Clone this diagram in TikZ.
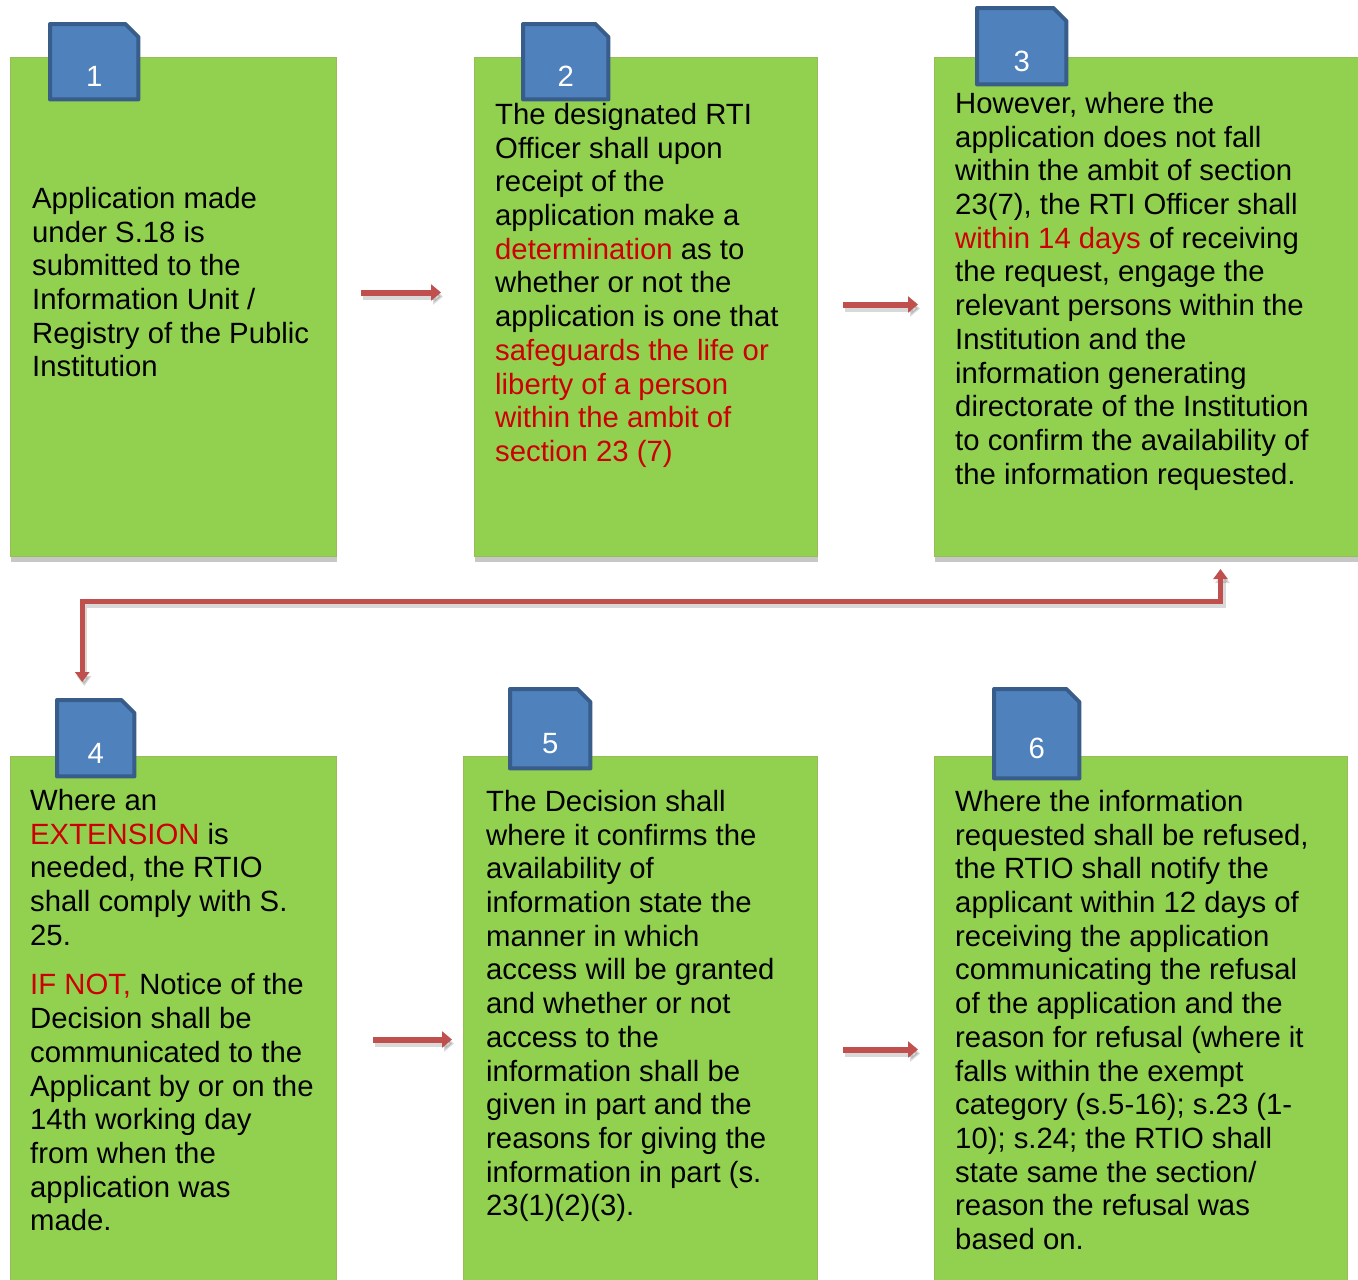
\documentclass[tikz,border=0pt]{standalone}
\usepackage{fontspec}
\setmainfont{Liberation Sans}
\usepackage{xcolor}
\usepackage{tikz}
\usetikzlibrary{arrows.meta,positioning,shadows}
\definecolor{leaf}{HTML}{92D050}
\definecolor{leafedge}{HTML}{9BBB59}
\definecolor{tabfill}{HTML}{4F81BD}
\definecolor{tabedge}{HTML}{385D8A}
\definecolor{flow}{HTML}{C0504D}
\definecolor{alert}{HTML}{CC0000}
\newcommand{\rtired}[1]{\textcolor{alert}{#1}}

\begin{document}
\begin{tikzpicture}[
  x=1pt, y=-1pt,
  stepbox/.style={draw=leafedge, line width=1pt, fill=leaf, anchor=north west,
    inner sep=0pt, drop shadow={shadow xshift=0pt, shadow yshift=-5pt,
    opacity=0.22, fill=black}},
  numtab/.style={rectangle, anchor=north west, inner sep=0pt},
  tabline/.style={draw=tabedge, line width=4pt, fill=tabfill, line join=round},
  numtext/.style={text=white, font=\fontsize{29.3}{33.7}\selectfont, yshift=-15pt},
  bodytext/.style={anchor=north west, inner sep=0pt, align=left,
    font=\fontsize{29.3}{33.7}\selectfont},
  flowarrow/.style={draw=flow, line width=6pt,
    -{Triangle[length=10pt, width=16pt]},
    preaction={draw=black, opacity=0.15, line width=6pt,
      transform canvas={shift={(2pt,-4pt)}}}},
]
  \useasboundingbox (0,0) rectangle (1358,1280);

  % boxes
  \node[stepbox, minimum width=326pt, minimum height=499pt] (b1) at (10,57) {};
  \node[stepbox, minimum width=343pt, minimum height=499pt] (b2) at (474,57) {};
  \node[stepbox, minimum width=426pt, minimum height=499pt] (b3) at (934,57) {};
  \node[stepbox, minimum width=326pt, minimum height=530pt] (b4) at (10,756) {};
  \node[stepbox, minimum width=354pt, minimum height=530pt] (b5) at (463,756) {};
  \node[stepbox, minimum width=413pt, minimum height=530pt] (b6) at (934,756) {};

  % number tabs
  \node[numtab, minimum width=88pt, minimum height=75pt] (t1) at (50,24) {};
  \node[numtab, minimum width=85pt, minimum height=75pt] (t2) at (523,24) {};
  \node[numtab, minimum width=89pt, minimum height=76pt] (t3) at (977,8) {};
  \node[numtab, minimum width=77pt, minimum height=76pt] (t4) at (57,700) {};
  \node[numtab, minimum width=80pt, minimum height=79pt] (t5) at (510,689) {};
  \node[numtab, minimum width=85pt, minimum height=89pt] (t6) at (994,689) {};
  \foreach \t/\n in {t1/1,t2/2,t3/3,t4/4,t5/5,t6/6} {
    \draw[tabline] (\t.south west) -- (\t.north west)
      -- ([xshift=-13pt]\t.north east) -- ([yshift=-13pt]\t.north east)
      -- (\t.south east) -- cycle;
    \node[numtext] (n\n) at (\t.center) {\n};
  }

  % texts
  \node[bodytext] (x1) at (32,187) {Application made\\under S.18 is\\
    submitted to the\\Information Unit /\\Registry of the Public\\Institution};
  \node[bodytext] (x2) at (495,103) {The designated RTI\\Officer shall upon\\
    receipt of the\\application make a\\\rtired{determination} as to\\
    whether or not the\\application is one that\\
    \rtired{safeguards the life or}\\\rtired{liberty of a person}\\
    \rtired{within the ambit of}\\\rtired{section 23 (7)}};
  \node[bodytext] (x3) at (955,92) {However, where the\\
    application does not fall\\within the ambit of section\\
    23(7), the RTI Officer shall\\\rtired{within 14 days} of receiving\\
    the request, engage the\\relevant persons within the\\
    Institution and the\\information generating\\
    directorate of the Institution\\to confirm the availability of\\
    the information requested.};
  \node[bodytext] (x4) at (30,789) {Where an\\\rtired{EXTENSION} is\\
    needed, the RTIO\\shall comply with S.\\25.\\[16pt]
    \rtired{IF NOT,} Notice of the\\Decision shall be\\communicated to the\\
    Applicant by or on the\\14th working day\\from when the\\
    application was\\made.};
  \node[bodytext] (x5) at (486,790) {The Decision shall\\where it confirms the\\
    availability of\\information state the\\manner in which\\
    access will be granted\\and whether or not\\access to the\\
    information shall be\\given in part and the\\reasons for giving the\\
    information in part (s.\\23(1)(2)(3).};
  \node[bodytext] (x6) at (955,790) {Where the information\\
    requested shall be refused,\\the RTIO shall notify the\\
    applicant within 12 days of\\receiving the application\\
    communicating the refusal\\of the application and the\\
    reason for refusal (where it\\falls within the exempt\\
    category (s.5-16); s.23 (1-\\10); s.24; the RTIO shall\\
    state same the section/\\reason the refusal was\\based on.};

  % flow
  \draw[flowarrow] ([xshift=24pt, yshift=14.5pt]b1.east)
    -- ([xshift=-33pt, yshift=14.5pt]b2.west);
  \draw[flowarrow] ([xshift=25pt, yshift=2.5pt]b2.east)
    -- ([xshift=-16pt, yshift=2.5pt]b3.west);
  \draw[flowarrow] ([xshift=36pt, yshift=-18pt]b4.east |- b4.center)
    -- ([xshift=-11pt, yshift=-18pt]b5.west |- b4.center);
  \draw[flowarrow] ([xshift=25pt, yshift=-28pt]b5.east |- b5.center)
    -- ([xshift=-16pt, yshift=-28pt]b6.west |- b5.center);
  \draw[flowarrow, line width=5pt, {Triangle[length=10pt, width=14pt]}-{Triangle[length=10pt, width=14pt]}]
    ([xshift=73pt, yshift=-12pt]b3.south) -- ++(0,32)
    -| ([xshift=-13.5pt, yshift=18pt]t4.north);
\end{tikzpicture}
\end{document}
